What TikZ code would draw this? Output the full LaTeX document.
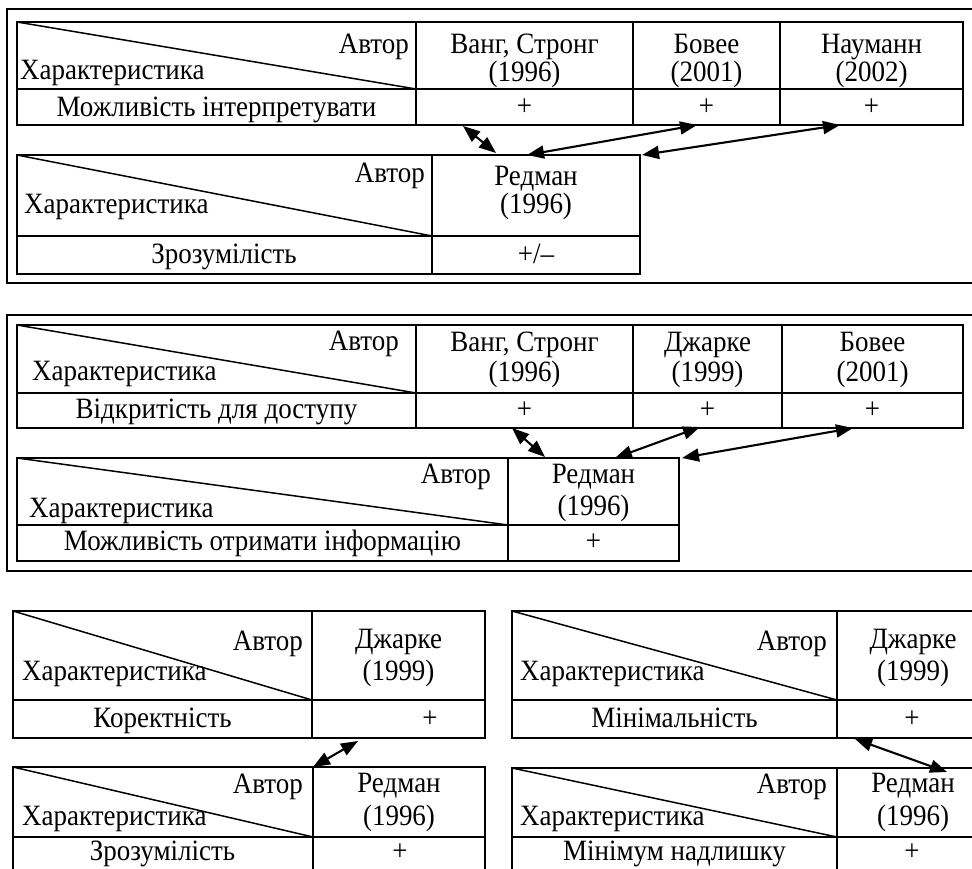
\documentclass[tikz,border=0pt]{standalone}
\usepackage{fontspec}
\setmainfont{Liberation Serif}[FakeStretch=0.915]
\usetikzlibrary{arrows.meta}
\begin{document}
\begin{tikzpicture}[x=1pt,y=-1pt,
  frm/.style={line width=2.5pt},
  tbl/.style={line width=2.3pt},
  diag/.style={line width=1.5pt},
  txt/.style={inner sep=0pt, font=\fontsize{29.5}{33}\selectfont},
  dbl/.style={line width=2.1pt, {Triangle[length=17pt,width=13pt]}-{Triangle[length=17pt,width=13pt]}}
]
\useasboundingbox (0,0) rectangle (972,869);

% ---------- Frame 1 ----------
\draw[frm] (972,9) -- (7,9) -- (7,283) -- (972,283);
% Table 1
\draw[tbl] (17,22) rectangle (963,125);
\draw[tbl] (17,89) -- (963,89);
\foreach \x in {416,633,780} \draw[tbl] (\x,22) -- (\x,125);
\draw[diag] (17,22) -- (416,89);
\node[txt, anchor=base east] (t1a) at (409,54) {Автор};
\node[txt, anchor=base west] (t1c) at (20,80) {Характеристика};
\node[txt, anchor=base] (t1r) at (216.5,117) {Можливість інтерпретувати};
\node[txt, anchor=base] (t1h1) at (524.5,54) {Ванг, Стронг};
\node[txt, anchor=base] (t1y1) at (524.5,82) {(1996)};
\node[txt, anchor=base] (t1h2) at (706.5,54) {Бовее};
\node[txt, anchor=base] (t1y2) at (706.5,82) {(2001)};
\node[txt, anchor=base] (t1h3) at (871.5,54) {Науманн};
\node[txt, anchor=base] (t1y3) at (871.5,82) {(2002)};
\node[txt, anchor=base] (t1p1) at (524.5,116) {+};
\node[txt, anchor=base] (t1p2) at (706.5,116) {+};
\node[txt, anchor=base] (t1p3) at (871.5,116) {+};
% Table 2
\draw[tbl] (17,155) rectangle (640,274);
\draw[tbl] (17,236) -- (640,236);
\draw[tbl] (432,155) -- (432,274);
\draw[diag] (17,155) -- (432,236);
\node[txt, anchor=base east] (t2a) at (425,183) {Автор};
\node[txt, anchor=base west] (t2c) at (24,214) {Характеристика};
\node[txt, anchor=base] (t2h) at (536,186) {Редман};
\node[txt, anchor=base] (t2y) at (536,214) {(1996)};
\node[txt, anchor=base] (t2r) at (224,264) {Зрозумілість};
\node[txt, anchor=base] (t2p) at (536,264) {+/–};
% arrows
\coordinate (a1s) at (463,126); \coordinate (a1e) at (496,153);
\coordinate (a2s) at (697,125); \coordinate (a2e) at (527,155);
\coordinate (a3s) at (840,125); \coordinate (a3e) at (642,155);
\draw[dbl] (a1s) -- (a1e);
\draw[dbl] (a2s) -- (a2e);
\draw[dbl] (a3s) -- (a3e);

% ---------- Frame 2 ----------
\draw[frm] (972,315) -- (7,315) -- (7,571) -- (972,571);
% Table 3
\draw[tbl] (17,325) rectangle (963,428);
\draw[tbl] (17,393) -- (963,393);
\foreach \x in {416,633,782} \draw[tbl] (\x,325) -- (\x,428);
\draw[diag] (17,325) -- (416,393);
\node[txt, anchor=base east] (t3a) at (399,350) {Автор};
\node[txt, anchor=base west] (t3c) at (32,380) {Характеристика};
\node[txt, anchor=base] (t3r) at (216.5,418) {Відкритість для доступу};
\node[txt, anchor=base] (t3h1) at (524.5,351) {Ванг, Стронг};
\node[txt, anchor=base] (t3y1) at (524.5,381) {(1996)};
\node[txt, anchor=base] (t3h2) at (707.5,351) {Джарке};
\node[txt, anchor=base] (t3y2) at (707.5,381) {(1999)};
\node[txt, anchor=base] (t3h3) at (872.5,351) {Бовее};
\node[txt, anchor=base] (t3y3) at (872.5,381) {(2001)};
\node[txt, anchor=base] (t3p1) at (524.5,418) {+};
\node[txt, anchor=base] (t3p2) at (707.5,418) {+};
\node[txt, anchor=base] (t3p3) at (872.5,418) {+};
% Table 4
\draw[tbl] (17,458) rectangle (679,561);
\draw[tbl] (17,525) -- (679,525);
\draw[tbl] (508,458) -- (508,561);
\draw[diag] (17,458) -- (508,525);
\node[txt, anchor=base east] (t4a) at (491,483) {Автор};
\node[txt, anchor=base west] (t4c) at (29,517) {Характеристика};
\node[txt, anchor=base] (t4h) at (593.5,483) {Редман};
\node[txt, anchor=base] (t4y) at (593.5,515) {(1996)};
\node[txt, anchor=base] (t4r) at (262.5,550) {Можливість отримати інформацію};
\node[txt, anchor=base] (t4p) at (593.5,550) {+};
% arrows
\coordinate (b1s) at (512,428); \coordinate (b1e) at (545,457);
\coordinate (b2s) at (700,427); \coordinate (b2e) at (615,458);
\coordinate (b3s) at (853,428); \coordinate (b3e) at (682,458);
\draw[dbl] (b1s) -- (b1e);
\draw[dbl] (b2s) -- (b2e);
\draw[dbl] (b3s) -- (b3e);

% ---------- Table 5 ----------
\draw[tbl] (13,611) rectangle (485,738);
\draw[tbl] (13,700) -- (485,700);
\draw[tbl] (312,611) -- (312,738);
\draw[diag] (13,611) -- (312,700);
\node[txt, anchor=base east] (t5a) at (303,650) {Автор};
\node[txt, anchor=base west] (t5c) at (22,680) {Характеристика};
\node[txt, anchor=base] (t5h) at (398.5,648) {Джарке};
\node[txt, anchor=base] (t5y) at (398.5,680) {(1999)};
\node[txt, anchor=base] (t5r) at (162.5,727) {Коректність};
\node[txt, anchor=base] (t5p) at (430,727) {+};
% ---------- Table 6 ----------
\draw[tbl] (13,869) -- (13,767) -- (485,767) -- (485,869);
\draw[tbl] (13,837) -- (485,837);
\draw[tbl] (313,767) -- (313,869);
\draw[diag] (13,767) -- (313,837);
\node[txt, anchor=base east] (t6a) at (303,793) {Автор};
\node[txt, anchor=base west] (t6c) at (22,825) {Характеристика};
\node[txt, anchor=base] (t6h) at (399,792) {Редман};
\node[txt, anchor=base] (t6y) at (399,825) {(1996)};
\node[txt, anchor=base] (t6r) at (162.5,860) {Зрозумілість};
\node[txt, anchor=base] (t6p) at (400,860) {+};
\coordinate (c1s) at (358,741); \coordinate (c1e) at (313,767);
\draw[dbl] (c1s) -- (c1e);

% ---------- Table 7 ----------
\draw[tbl] (972,611) -- (512,611) -- (512,738) -- (972,738);
\draw[tbl] (512,700) -- (972,700);
\draw[tbl] (837,611) -- (837,738);
\draw[diag] (512,611) -- (837,700);
\node[txt, anchor=base east] (t7a) at (827,650) {Автор};
\node[txt, anchor=base west] (t7c) at (520,680) {Характеристика};
\node[txt, anchor=base] (t7h) at (913,648) {Джарке};
\node[txt, anchor=base] (t7y) at (913,680) {(1999)};
\node[txt, anchor=base] (t7r) at (674.5,727) {Мінімальність};
\node[txt, anchor=base] (t7p) at (912,727) {+};
% ---------- Table 8 ----------
\draw[tbl] (512,869) -- (512,768) -- (972,768);
\draw[tbl] (512,837) -- (972,837);
\draw[tbl] (837,768) -- (837,869);
\draw[diag] (512,768) -- (837,837);
\node[txt, anchor=base east] (t8a) at (827,793) {Автор};
\node[txt, anchor=base west] (t8c) at (520,825) {Характеристика};
\node[txt, anchor=base] (t8h) at (913,792) {Редман};
\node[txt, anchor=base] (t8y) at (913,825) {(1996)};
\node[txt, anchor=base] (t8r) at (674.5,860) {Мінімум надлишку};
\node[txt, anchor=base] (t8p) at (912,860) {+};
\coordinate (d1s) at (855,739); \coordinate (d1e) at (947,772);
\draw[dbl] (d1s) -- (d1e);
\end{tikzpicture}
\end{document}
